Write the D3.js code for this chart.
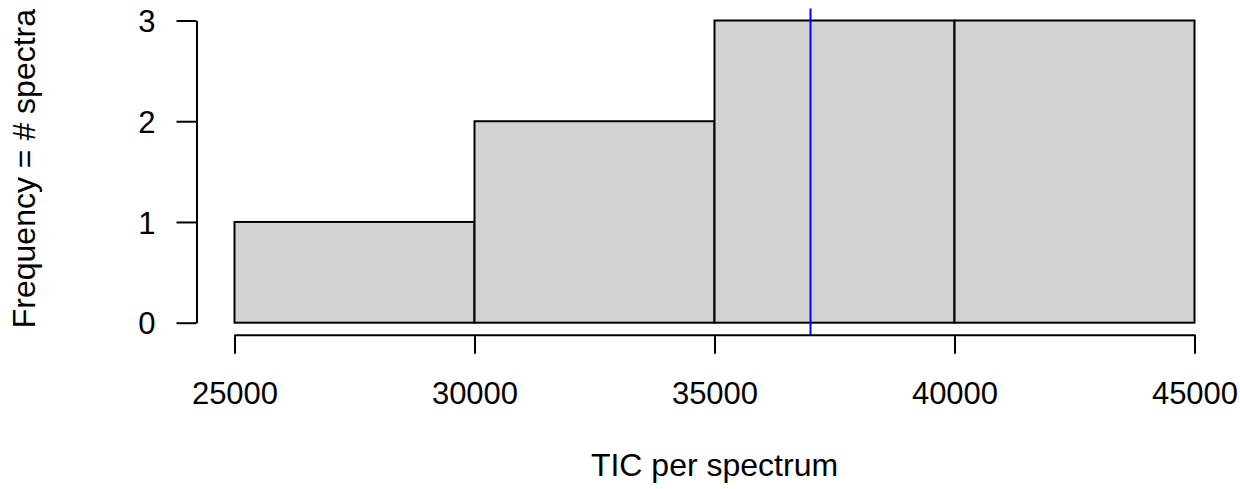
<!DOCTYPE html>
<html>
<head>
<meta charset="utf-8">
<script src="https://cdn.jsdelivr.net/npm/d3@7"></script>
<style>
  html, body { margin: 0; padding: 0; background: #fff; }
  text { font-family: "Liberation Sans", Arial, Helvetica, sans-serif; }
</style>
</head>
<body>
<div id="chart"></div>
<script>
const width = 1240;
const height = 489;

// data
const binEdges = [25000, 30000, 35000, 40000, 45000];
const counts = [1, 2, 3, 3];
const xTicks = [25000, 30000, 35000, 40000, 45000];
const yTicks = [0, 1, 2, 3];
const meanTIC = 37000;
const xTitle = 'TIC per spectrum';
const yTitle = 'Frequency = # spectra';

const bins = counts.map((c, i) => ({x0: binEdges[i], x1: binEdges[i + 1], count: c}));

// scales (R style: axis lines run from first to last tick)
const x = d3.scaleLinear().domain([25000, 45000]).range([234.5, 1194.5]);
const y = d3.scaleLinear().domain([0, 3]).range([322.7, 20.5]);

// plot region is 4% wider than the data range
const yPad = 0.04 * 3;
const plotTop = y(3 + yPad);
const plotBottom = y(0 - yPad);

let svg = d3.select('#chart').append('svg')
  .attr('width', width)
  .attr('height', height);

// bars
svg.append('g')
  .selectAll('rect')
  .data(bins)
  .join('rect')
  .attr('x', d => x(d.x0))
  .attr('y', d => y(d.count))
  .attr('width', d => x(d.x1) - x(d.x0))
  .attr('height', d => y(0) - y(d.count))
  .style('fill', '#d3d3d3')
  .attr('stroke', '#000')
  .attr('stroke-width', 2);

// vertical blue line
svg.append('line')
  .attr('x1', x(meanTIC))
  .attr('x2', x(meanTIC))
  .attr('y1', plotTop)
  .attr('y2', plotBottom)
  .attr('stroke', '#0000ff')
  .attr('stroke-width', 2);

// x axis
let gx = svg.append('g')
  .attr('transform', 'translate(0,' + plotBottom + ')')
  .call(d3.axisBottom(x).tickValues(xTicks).tickSize(19).tickSizeOuter(0).tickFormat(d3.format('d')));
gx.select('.domain').attr('stroke', '#000').attr('stroke-width', 2);
gx.selectAll('.tick line').attr('stroke', '#000').attr('stroke-width', 2);
gx.selectAll('.tick text')
  .attr('y', 404 - plotBottom)
  .attr('dy', null)
  .style('font-size', '31px')
  .style('fill', '#000');

// y axis
let gy = svg.append('g')
  .attr('transform', 'translate(196.5,0)')
  .call(d3.axisLeft(y).tickValues(yTicks).tickSize(20).tickSizeOuter(0).tickFormat(d3.format('d')));
gy.select('.domain').attr('stroke', '#000').attr('stroke-width', 2);
gy.selectAll('.tick line').attr('stroke', '#000').attr('stroke-width', 2);
gy.selectAll('.tick text')
  .attr('x', -41)
  .attr('dy', '0.36em')
  .style('font-size', '31px')
  .style('fill', '#000');
svg.selectAll('g').attr('font-family', null).attr('font-size', null);

// axis titles
svg.append('text')
  .text(xTitle)
  .attr('x', (x.range()[0] + x.range()[1]) / 2)
  .attr('y', 476)
  .attr('text-anchor', 'middle')
  .style('font-size', '32px')
  .style('fill', '#000');

svg.append('text')
  .text(yTitle)
  .attr('transform', 'translate(35,' + ((plotTop + plotBottom) / 2 - 3) + ') rotate(-90)')
  .attr('text-anchor', 'middle')
  .style('font-size', '32px')
  .style('fill', '#000');
</script>
</body>
</html>
